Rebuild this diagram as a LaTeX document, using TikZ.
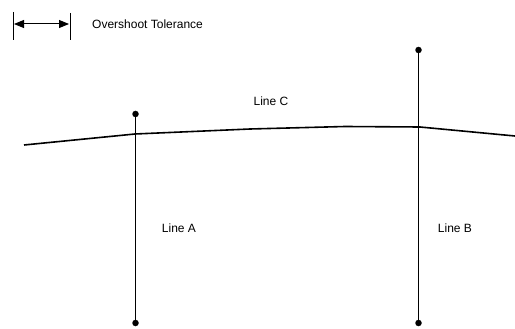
\documentclass[tikz,border=0pt]{standalone}
\usepackage{fontspec}
\setmainfont{Liberation Sans}
\usetikzlibrary{arrows.meta}
\begin{document}
\begin{tikzpicture}[x=1pt,y=-1pt,
  lbl/.style={inner sep=0pt,font=\fontsize{12}{14}\selectfont},
  vline/.style={line width=1pt},
  cline/.style={line width=1.6pt},
  dotend/.style={circle,fill=black,inner sep=0pt,minimum size=6.5pt}]
\useasboundingbox[fill=white] (0,0) rectangle (515,329);
% tolerance marker
\coordinate (t1a) at (13,12); \coordinate (t1b) at (13,40);
\coordinate (t2a) at (70,13); \coordinate (t2b) at (70,40);
\coordinate (ta) at (14,24); \coordinate (tb) at (69,24);
\draw[line width=1pt] (t1a) -- (t1b);
\draw[line width=1pt] (t2a) -- (t2b);
\draw[line width=1pt,{Triangle[length=10pt,width=8pt]}-{Triangle[length=10pt,width=8pt]}] (ta) -- (tb);
\node[lbl,anchor=west] (tol) at (92,24) {Overshoot Tolerance};
% Line C
\coordinate (c0) at (24,145);
\coordinate (c1) at (135,134);
\coordinate (c2) at (250,129);
\coordinate (c3) at (345,126.5);
\coordinate (c4) at (420,127);
\coordinate (c5) at (515,136);
\draw[cline] (c0) -- (c1) -- (c2) -- (c3) -- (c4) -- (c5);
% Line A
\node[dotend] (a1) at (135.5,114) {};
\node[dotend] (a2) at (135.5,323) {};
\draw[vline] (a1.center) -- (a2.center);
% Line B
\node[dotend] (b1) at (418.5,50) {};
\node[dotend] (b2) at (418.5,323) {};
\draw[vline] (b1.center) -- (b2.center);
% labels
\node[lbl] (lc) at (271,101) {Line C};
\node[lbl] (la) at (179,228) {Line A};
\node[lbl] (lb) at (455,228) {Line B};
\end{tikzpicture}
\end{document}
